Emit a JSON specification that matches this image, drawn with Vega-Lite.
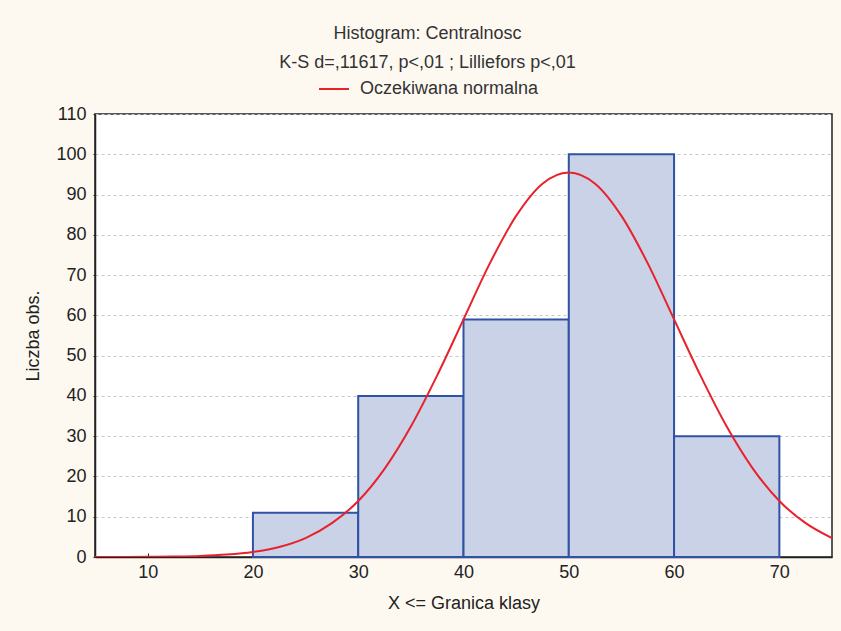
{
  "$schema": "https://vega.github.io/schema/vega-lite/v6.json",
  "autosize": "none",
  "width": 737,
  "height": 443,
  "padding": {"left": 95, "top": 114, "right": 9, "bottom": 74},
  "background": "#fdf9f1",
  "title": {
    "text": "Histogram: Centralnosc",
    "subtitle": "K-S d=,11617, p<,01 ; Lilliefors p<,01",
    "anchor": "middle",
    "dx": -36,
    "offset": 1,
    "font": "Liberation Sans",
    "fontSize": 18,
    "fontWeight": "normal",
    "color": "#333333",
    "subtitleFont": "Liberation Sans",
    "subtitleFontSize": 18,
    "subtitleColor": "#333333",
    "subtitlePadding": 11
  },
  "datasets": {
    "bars": [
      {"start": 20, "end": 30, "count": 11},
      {"start": 30, "end": 40, "count": 40},
      {"start": 40, "end": 50, "count": 59},
      {"start": 50, "end": 60, "count": 100},
      {"start": 60, "end": 70, "count": 30}
    ],
    "curve": [
      {"x": 5, "y": 0.01, "s": "Oczekiwana normalna"},
      {"x": 7.5, "y": 0.02, "s": "Oczekiwana normalna"},
      {"x": 10, "y": 0.04, "s": "Oczekiwana normalna"},
      {"x": 12.5, "y": 0.11, "s": "Oczekiwana normalna"},
      {"x": 15, "y": 0.26, "s": "Oczekiwana normalna"},
      {"x": 17.5, "y": 0.6, "s": "Oczekiwana normalna"},
      {"x": 20, "y": 1.26, "s": "Oczekiwana normalna"},
      {"x": 22.5, "y": 2.5, "s": "Oczekiwana normalna"},
      {"x": 25, "y": 4.7, "s": "Oczekiwana normalna"},
      {"x": 27.5, "y": 8.4, "s": "Oczekiwana normalna"},
      {"x": 30, "y": 13.9, "s": "Oczekiwana normalna"},
      {"x": 32.5, "y": 21.9, "s": "Oczekiwana normalna"},
      {"x": 35, "y": 32.4, "s": "Oczekiwana normalna"},
      {"x": 37.5, "y": 45.1, "s": "Oczekiwana normalna"},
      {"x": 40, "y": 59, "s": "Oczekiwana normalna"},
      {"x": 42.5, "y": 72.9, "s": "Oczekiwana normalna"},
      {"x": 45, "y": 84.7, "s": "Oczekiwana normalna"},
      {"x": 47.5, "y": 92.7, "s": "Oczekiwana normalna"},
      {"x": 50, "y": 95.5, "s": "Oczekiwana normalna"},
      {"x": 52.5, "y": 92.7, "s": "Oczekiwana normalna"},
      {"x": 55, "y": 84.7, "s": "Oczekiwana normalna"},
      {"x": 57.5, "y": 72.9, "s": "Oczekiwana normalna"},
      {"x": 60, "y": 59, "s": "Oczekiwana normalna"},
      {"x": 62.5, "y": 45.1, "s": "Oczekiwana normalna"},
      {"x": 65, "y": 32.4, "s": "Oczekiwana normalna"},
      {"x": 67.5, "y": 21.9, "s": "Oczekiwana normalna"},
      {"x": 70, "y": 13.9, "s": "Oczekiwana normalna"},
      {"x": 72.5, "y": 8.4, "s": "Oczekiwana normalna"},
      {"x": 75, "y": 4.7, "s": "Oczekiwana normalna"}
    ]
  },
  "layer": [
    {
      "data": {"name": "bars"},
      "mark": {"type": "rect", "fill": "#cad2e8", "stroke": "#2f52a3", "strokeWidth": 2},
      "encoding": {
        "x": {
          "field": "start", "type": "quantitative",
          "scale": {"domain": [5, 75], "nice": false, "zero": false},
          "axis": {
            "title": "X <= Granica klasy",
            "values": [10, 20, 30, 40, 50, 60, 70],
            "grid": false,
            "tickSize": -4,
            "tickColor": "#222222",
            "domainColor": "#222222",
            "domainWidth": 1.5,
            "labelPadding": 10,
            "titlePadding": 13
          }
        },
        "x2": {"field": "end"},
        "y": {
          "field": "count", "type": "quantitative",
          "scale": {"domain": [0, 110], "nice": false},
          "axis": {
            "title": "Liczba obs.",
            "values": [0, 10, 20, 30, 40, 50, 60, 70, 80, 90, 100, 110],
            "grid": true,
            "gridDash": [3, 3],
            "gridColor": "#c8c8c8",
            "tickSize": 2,
            "tickColor": "#222222",
            "domainColor": "#222222",
            "domainWidth": 1.5,
            "labelPadding": 7,
            "titlePadding": 13
          }
        },
        "y2": {"datum": 0}
      }
    },
    {
      "data": {"name": "curve"},
      "mark": {"type": "line", "interpolate": "monotone", "strokeWidth": 2, "clip": true},
      "encoding": {
        "x": {"field": "x", "type": "quantitative"},
        "y": {"field": "y", "type": "quantitative"},
        "color": {
          "field": "s", "type": "nominal",
          "scale": {"range": ["#e8212b"]},
          "legend": {
            "title": null,
            "orient": "none",
            "legendX": 223,
            "legendY": -41,
            "symbolType": "stroke",
            "symbolSize": 900,
            "symbolStrokeWidth": 2,
            "labelFont": "Liberation Sans",
            "labelFontSize": 18,
            "labelColor": "#333333",
            "labelOffset": 10,
            "labelLimit": 400
          }
        }
      }
    }
  ],
  "config": {
    "view": {"fill": "#ffffff", "stroke": "#222222", "strokeWidth": 1.5},
    "axis": {
      "labelFont": "Liberation Sans",
      "labelFontSize": 18,
      "labelColor": "#222222",
      "titleFont": "Liberation Sans",
      "titleFontSize": 18,
      "titleFontWeight": "normal",
      "titleColor": "#222222"
    }
  }
}
